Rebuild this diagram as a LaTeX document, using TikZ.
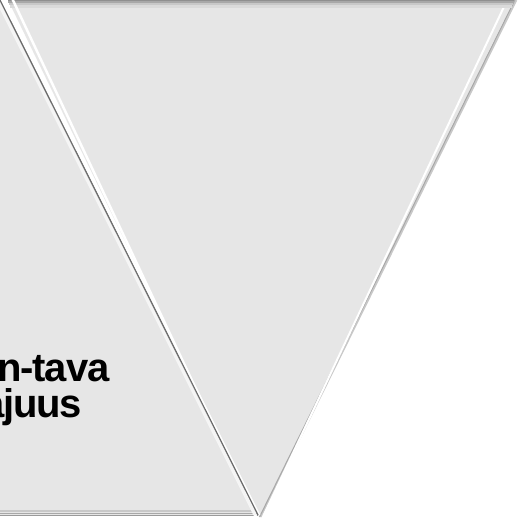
\documentclass[tikz,border=0pt]{standalone}
\usepackage{fontspec}
\setmainfont{Liberation Sans}
\definecolor{tri}{HTML}{E6E6E6}
\definecolor{edgedark}{HTML}{6E6E6E}
\definecolor{edgemid}{HTML}{A8A8A8}
\definecolor{edgelight}{HTML}{C8C8C8}
\tikzset{
  facet/.style={fill=tri, draw=none},
  label/.style={font=\bfseries\fontsize{40}{35}\selectfont\addfontfeature{LetterSpace=-3}, inner sep=0pt, text=black},
}
\begin{document}
\begin{tikzpicture}[x=1pt, y=-1pt]
\useasboundingbox (0,0) rectangle (519,519);
\fill[white] (0,0) rectangle (519,519);
\begin{scope}
\clip (0,0) rectangle (519,519);
% left (upright) triangle
\coordinate (LA) at (-1,-2);
\coordinate (LB) at (258,515);
\coordinate (LC) at (-260,515);
\fill[facet] (LA) -- (LB) -- (LC) -- cycle;
% bottom bevel of left triangle
\draw[edgelight, line width=1.5pt] (-260,511) -- (255,511);
\draw[edgemid, line width=1.5pt] (-260,513.5) -- (257,513.5);
\draw[edgedark!70, line width=1pt] (-260,515.2) -- (258,515.2);
% inverted triangle
\coordinate (TA) at (8,0);
\coordinate (TB) at (514,0);
\coordinate (TC) at (259,517);
\fill[facet] (TA) -- (TB) -- (TC) -- cycle;
% shadow outside right edge
\draw[edgelight, line width=2.5pt] ([xshift=2pt]TB) -- ([xshift=1.5pt]TC);
\draw[edgemid, line width=1pt] ([xshift=0.8pt]TB) -- ([xshift=0.5pt]TC);
% inner highlight along right edge
\draw[white, line width=2pt] ([xshift=-4pt,yshift=6pt]TB) -- ([yshift=-8pt]TC);
% top bevel stripes
\fill[edgemid!85!black] (TA) rectangle (514,1.5);
\fill[edgemid] (8,1.5) rectangle (514,3.5);
\fill[edgelight] (9,3.5) rectangle (513,5);
\fill[tri!60!edgelight] (10,5) rectangle (512,8);
% left edge of inverted triangle: white highlight
\draw[white, line width=2.5pt] ([xshift=3pt,yshift=4pt]TA) -- ([yshift=-6pt]TC);
% left triangle right edge: dark line with light bands
\draw[white!60!tri, line width=3pt] ([xshift=-3pt]LA) -- ([xshift=-3pt]LB);
\draw[edgedark, line width=1.3pt] (LA) -- (LB);
\draw[white, line width=1.2pt] ([xshift=2pt]LA) -- ([xshift=1.8pt]LB);
\end{scope}
\node[label, anchor=base east] (l1) at (109.5,381.5) {n-tava};
\node[label, anchor=base east] (l2) at (82,417) {ajuus};
\end{tikzpicture}
\end{document}
